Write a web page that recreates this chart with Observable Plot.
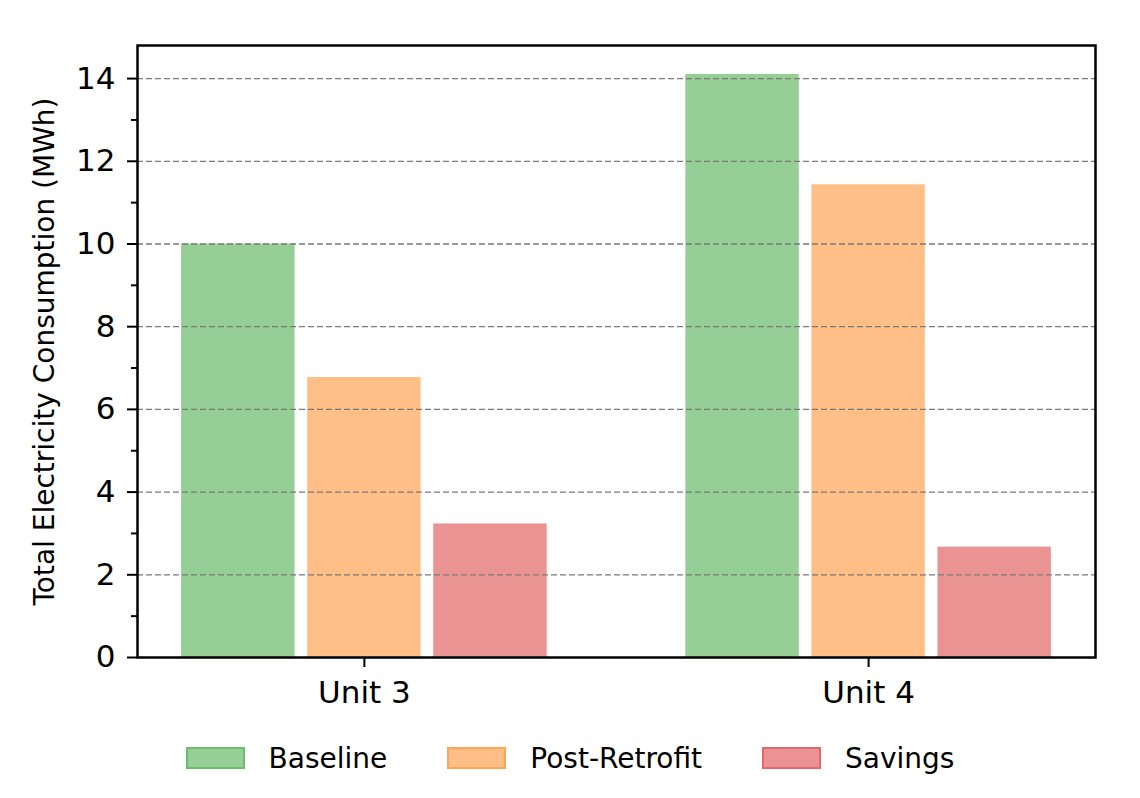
<!DOCTYPE html>
<html>
<head>
<meta charset="utf-8">
<script src="https://cdn.jsdelivr.net/npm/d3@7"></script>
<script src="https://cdn.jsdelivr.net/npm/@observablehq/plot@0.6"></script>
<style>
  html, body { margin: 0; padding: 0; background: #fff; }
  #wrap { width: 1140px; font-family: "DejaVu Sans", sans-serif; }
  #legend { display: flex; justify-content: center; align-items: center; gap: 60px; height: 78px; font-size: 28px; color: #000; padding-bottom: 2px; box-sizing: border-box; }
  .item { display: flex; align-items: center; }
  .sw { width: 59px; height: 22px; box-sizing: border-box; border: 2px solid; margin-right: 24px; }
</style>
</head>
<body>
<div id="wrap"></div>
<script>
const units = ["Unit 3", "Unit 4"];
const series = ["Baseline", "Post-Retrofit", "Savings"];
const baseline = [10.0, 14.1];
const postRetrofit = [6.77, 11.43];
const savings = [3.23, 2.67];
const colors = ["#2ca02c", "#ff7f0e", "#d62728"];
const yTicks = [0, 2, 4, 6, 8, 10, 12, 14];
const yMinor = [1, 3, 5, 7, 9, 11, 13];
const yLabel = "Total Electricity Consumption (MWh)";

const values = [baseline, postRetrofit, savings];
const barWidth = 0.225, offset = 0.25;
const rows = [];
series.forEach((s, si) => {
  units.forEach((u, ui) => {
    const c = ui + (si - 1) * offset;
    rows.push({unit: u, series: s, value: values[si][ui], x1: c - barWidth / 2, x2: c + barWidth / 2});
  });
});

const chart = Plot.plot({
  width: 1140,
  height: 720,
  marginLeft: 137,
  marginRight: 45,
  marginTop: 45,
  marginBottom: 63,
  style: {fontFamily: "DejaVu Sans", color: "#000", background: "#fff"},
  x: {domain: [-0.45, 1.45]},
  y: {domain: [0, 14.8]},
  color: {domain: series, range: colors},
  marks: [
    Plot.rectY(rows, {x1: "x1", x2: "x2", y1: 0, y2: "value", fill: "series", fillOpacity: 0.5}),
    Plot.ruleY(yTicks.filter(d => d > 0), {stroke: "#7a7a7a", strokeWidth: 1.3, strokeDasharray: "6,3"}),
    Plot.axisY({ticks: yMinor, tickSize: 6, tickFormat: () => "", strokeWidth: 2, label: null}),
    Plot.axisY({ticks: yTicks, tickSize: 10, tickPadding: 12, fontSize: 31, strokeWidth: 2, label: null}),
    Plot.axisX({ticks: [0, 1], tickFormat: i => units[i], tickSize: 10, tickPadding: 13, fontSize: 31, strokeWidth: 2, label: null}),
    Plot.text([yLabel], {frameAnchor: "left", dx: -92, rotate: -90, textAnchor: "middle", lineAnchor: "middle", fontSize: 28}),
    Plot.frame({stroke: "#000", strokeWidth: 2.5})
  ]
});

const wrap = document.getElementById("wrap");
wrap.appendChild(chart);
const legend = document.createElement("div");
legend.id = "legend";
series.forEach((s, i) => {
  const item = document.createElement("div");
  item.className = "item";
  const sw = document.createElement("span");
  sw.className = "sw";
  const fill = d3.interpolateRgb("#fff", colors[i])(0.5);
  const edge = d3.interpolateRgb("#fff", colors[i])(0.7);
  sw.style.background = fill;
  sw.style.borderColor = edge;
  const t = document.createElement("span");
  t.textContent = s;
  item.appendChild(sw);
  item.appendChild(t);
  legend.appendChild(item);
});
wrap.appendChild(legend);
</script>
</body>
</html>
